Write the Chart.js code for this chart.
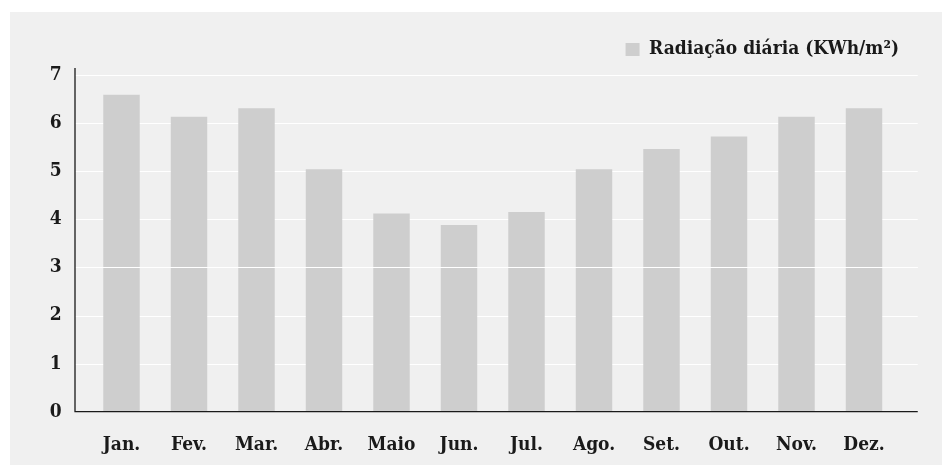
<!DOCTYPE html>
<html lang="pt">
<head>
<meta charset="utf-8">
<title>Radiação diária</title>
<script src="https://cdn.jsdelivr.net/npm/chart.js@4/dist/chart.umd.min.js"></script>
<style>
  html, body { margin: 0; padding: 0; background: #ffffff; }
  #wrap { position: absolute; left: 10px; top: 12px; width: 932px; height: 453px; background: #f0f0f0; }
</style>
</head>
<body>
<div id="wrap"><canvas id="chart"></canvas></div>
<script>
const months = ['Jan.', 'Fev.', 'Mar.', 'Abr.', 'Maio', 'Jun.', 'Jul.', 'Ago.', 'Set.', 'Out.', 'Nov.', 'Dez.'];
const radiation = [6.59, 6.13, 6.31, 5.04, 4.12, 3.88, 4.15, 5.04, 5.46, 5.72, 6.13, 6.31];
const seriesLabel = 'Radiação diária (KWh/m²)';
const yTicks = [0, 1, 2, 3, 4, 5, 6, 7];
const overBarsLine = 3;

const FONT = '"DejaVu Serif Condensed", "DejaVu Serif", serif';
const INK = '#1a1a1a';

// leave some room between the legend row and the top of the plot
const legendGap = {
  id: 'legendGap',
  beforeLayout(chart){
    const lg = chart.legend;
    if(!lg || lg._gapWrapped) return;
    const fit = lg.fit;
    lg.fit = function(){ fit.call(this); this.height += 6; };
    lg._gapWrapped = true;
  }
};

// grid and axis lines run a bit past the bars on both sides
const axisLines = {
  id: 'axisLines',
  beforeDatasetsDraw(chart){
    const { ctx, chartArea: a, scales: { y } } = chart;
    const x0 = a.left - 12.75, x1 = a.right + 20;
    ctx.save();
    ctx.strokeStyle = '#ffffff';
    ctx.lineWidth = 1.2;
    yTicks.forEach(v => {
      if(v === 0) return;
      const py = Math.round(y.getPixelForValue(v)) + 0.5;
      ctx.beginPath(); ctx.moveTo(x0, py); ctx.lineTo(x1, py); ctx.stroke();
    });
    ctx.restore();
  },
  afterDatasetsDraw(chart){
    const { ctx, chartArea: a, scales: { y } } = chart;
    const x0 = a.left - 12.75, x1 = a.right + 20;
    ctx.save();
    ctx.strokeStyle = '#ffffff';
    ctx.lineWidth = 1.2;
    const py = Math.round(y.getPixelForValue(overBarsLine)) + 0.5;
    ctx.beginPath(); ctx.moveTo(x0, py); ctx.lineTo(x1, py); ctx.stroke();

    ctx.strokeStyle = INK;
    ctx.lineWidth = 1.3;
    const yb = y.getPixelForValue(0);
    ctx.beginPath();
    ctx.moveTo(x0, y.getPixelForValue(7) - 7);
    ctx.lineTo(x0, yb);
    ctx.lineTo(x1, yb);
    ctx.stroke();
    ctx.restore();
  }
};

new Chart(document.getElementById('chart'), {
  type: 'bar',
  data: {
    labels: months,
    datasets: [{
      label: seriesLabel,
      data: radiation,
      backgroundColor: '#cecece',
      borderWidth: 0,
      barPercentage: 0.54,
      categoryPercentage: 1
    }]
  },
  options: {
    responsive: true,
    maintainAspectRatio: false,
    animation: false,
    layout: { padding: { left: 0, right: 33, top: 18, bottom: 0 } },
    plugins: {
      legend: {
        position: 'top',
        align: 'end',
        labels: {
          boxWidth: 14,
          boxHeight: 13,
          padding: 10,
          color: INK,
          font: { family: FONT, size: 19, weight: 'bold' }
        }
      },
      tooltip: { enabled: false }
    },
    scales: {
      x: {
        grid: { display: false },
        border: { display: false },
        ticks: { color: INK, padding: 14, font: { family: FONT, size: 19, weight: 'bold' } },
        afterFit(s){ s.height = 53.3; }
      },
      y: {
        min: 0,
        max: 7,
        grid: { display: false },
        border: { display: false },
        ticks: { stepSize: 1, color: INK, padding: 18, font: { family: FONT, size: 19, weight: 'bold' } },
        afterFit(s){ s.width = 77.75; }
      },
      yRight: {
        position: 'right',
        display: true,
        grid: { display: false },
        border: { display: false },
        ticks: { display: false },
        afterFit(s){ s.width = 11.25; }
      }
    }
  },
  plugins: [legendGap, axisLines]
});
</script>
</body>
</html>
